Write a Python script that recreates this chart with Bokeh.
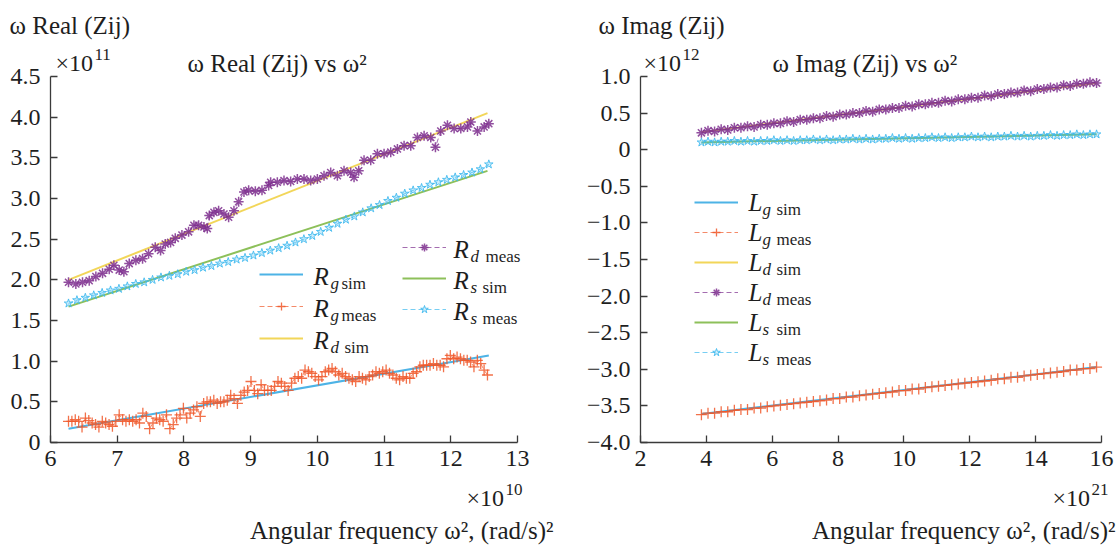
import numpy as np
from bokeh.plotting import figure
from bokeh.models import Label, Legend, LegendItem, FixedTicker, Range1d
from bokeh.layouts import row
from bokeh.embed import file_html
from bokeh.resources import INLINE

# ---------------- data (left: x in 1e10 (rad/s)^2, y in 1e11) ----------------
rg_sim_x = [6.27, 12.57]
rg_sim_y = [0.17, 1.07]
rg_meas_x_range = [6.27, 12.55]
rg_meas_y = [0.26, 0.26, 0.28, 0.26, 0.19, 0.30, 0.27, 0.24, 0.22, 0.19,
             0.26, 0.24, 0.22, 0.20, 0.26, 0.34, 0.28, 0.26, 0.28, 0.26,
             0.28, 0.24, 0.36, 0.32, 0.17, 0.24, 0.30, 0.28, 0.26, 0.34,
             0.17, 0.22, 0.30, 0.34, 0.42, 0.30, 0.36, 0.40, 0.44, 0.32,
             0.48, 0.50, 0.50, 0.52, 0.48, 0.50, 0.50, 0.52, 0.58, 0.54,
             0.48, 0.58, 0.62, 0.64, 0.75, 0.64, 0.60, 0.71, 0.64, 0.64,
             0.64,
             0.69, 0.75, 0.73, 0.69, 0.64, 0.73, 0.79, 0.81, 0.79, 0.89,
             0.87, 0.85, 0.81, 0.77, 0.81, 0.87, 0.89, 0.91, 0.87, 0.83,
             0.85, 0.81, 0.79, 0.77, 0.75, 0.81, 0.79, 0.77, 0.81, 0.83,
             0.87, 0.85, 0.87, 0.89, 0.85, 0.83, 0.79, 0.77, 0.81, 0.79,
             0.79, 0.85, 0.87, 0.93, 0.95, 0.95, 0.95, 0.97, 0.95, 0.95,
             0.93, 1.03, 1.07, 1.03, 1.05, 1.03, 1.01, 1.01, 0.99, 0.93,
             1.01, 0.97, 0.89, 0.83]
rd_sim_x = [6.27, 12.55]
rd_sim_y = [2.00, 4.05]
rd_meas_x = [6.27, 6.38, 6.48, 6.58, 6.68, 6.78, 6.88, 6.95, 7.03, 7.10,
             7.18, 7.28, 7.38, 7.47, 7.57, 7.65, 7.72, 7.80, 7.87, 7.97,
             8.07, 8.15, 8.22, 8.30, 8.35, 8.38, 8.45, 8.52, 8.60, 8.67,
             8.75, 8.82, 8.90, 8.97, 9.07, 9.17, 9.27,
             9.30, 9.40, 9.50, 9.60, 9.70, 9.80, 9.90, 10.00, 10.10, 10.20,
             10.30, 10.40, 10.50, 10.55, 10.62, 10.70, 10.80, 10.90, 11.00, 11.10,
             11.20, 11.30, 11.40, 11.50, 11.60, 11.70, 11.77, 11.85, 11.95, 12.05,
             12.15, 12.25, 12.30, 12.40, 12.50, 12.57]
rd_meas_y = [1.97, 1.95, 1.97, 1.99, 2.04, 2.08, 2.13, 2.18, 2.12, 2.10,
             2.20, 2.24, 2.26, 2.32, 2.40, 2.36, 2.44, 2.46, 2.51, 2.55,
             2.59, 2.67, 2.67, 2.65, 2.63, 2.79, 2.83, 2.85, 2.81, 2.77,
             2.85, 2.96, 3.08, 3.10, 3.09, 3.10, 3.16,
             3.20, 3.20, 3.22, 3.21, 3.24, 3.24, 3.22, 3.24, 3.28, 3.32,
             3.28, 3.34, 3.32, 3.26, 3.34, 3.47, 3.47, 3.55, 3.55, 3.57,
             3.61, 3.65, 3.65, 3.75, 3.77, 3.75, 3.63, 3.83, 3.90, 3.86,
             3.86, 3.88, 3.94, 3.83, 3.88, 3.92]
rs_sim_x = [6.27, 12.55]
rs_sim_y = [1.67, 3.34]
rs_meas_x_range = [6.27, 12.57]
rs_meas_y = [1.71, 1.75, 1.78, 1.81, 1.84, 1.87, 1.89, 1.92, 1.95, 1.97,
             2.00, 2.03, 2.05, 2.07, 2.10, 2.12, 2.15, 2.17, 2.20, 2.22,
             2.25, 2.27, 2.30, 2.33, 2.36, 2.39, 2.42, 2.46, 2.50, 2.54,
             2.59, 2.64, 2.69, 2.74, 2.78, 2.83, 2.88, 2.92, 2.97, 3.01,
             3.06, 3.10, 3.13, 3.17, 3.20, 3.23, 3.26, 3.29, 3.32, 3.36,
             3.42]

# ---------------- data (right: x in 1e21 (rad/s)^2, y in 1e12) ----------------
right_meas_x_range = [3.85, 15.85]
lg_sim_x = [3.85, 15.85]
lg_sim_y = [-3.61, -2.97]
lg_meas_y = [-3.62, -3.60, -3.60, -3.58, -3.58, -3.56, -3.55, -3.55, -3.53, -3.53,
             -3.51, -3.50, -3.49, -3.48, -3.47, -3.46, -3.45, -3.44, -3.43, -3.42,
             -3.40, -3.40, -3.38, -3.38, -3.36, -3.35, -3.34, -3.33, -3.32, -3.31,
             -3.29, -3.29, -3.27, -3.27, -3.25, -3.24, -3.23, -3.22, -3.21, -3.20,
             -3.19, -3.18, -3.17, -3.16, -3.15, -3.13, -3.13, -3.11, -3.11, -3.09,
             -3.08, -3.07, -3.06, -3.05, -3.04, -3.03, -3.01, -3.01, -2.99, -2.99,
             -2.97]
ld_sim_x = [3.85, 15.85]
ld_sim_y = [0.24, 0.91]
ld_meas_y = [0.23, 0.26, 0.25, 0.28, 0.27, 0.30, 0.30, 0.32, 0.31, 0.34,
             0.34, 0.36, 0.36, 0.39, 0.38, 0.41, 0.41, 0.43, 0.43, 0.46,
             0.45, 0.48, 0.48, 0.50, 0.50, 0.53, 0.52, 0.55, 0.55, 0.57,
             0.57, 0.60, 0.59, 0.62, 0.62, 0.64, 0.64, 0.67, 0.66, 0.69,
             0.69, 0.71, 0.71, 0.74, 0.73, 0.76, 0.76, 0.78, 0.78, 0.81,
             0.80, 0.83, 0.83, 0.85, 0.85, 0.88, 0.87, 0.90, 0.90, 0.92,
             0.91]
ls_sim_x = [3.85, 15.85]
ls_sim_y = [0.10, 0.21]
ls_meas_y = [0.10, 0.11, 0.10, 0.11, 0.11, 0.12, 0.11, 0.12, 0.11, 0.12,
             0.12, 0.13, 0.12, 0.13, 0.12, 0.13, 0.13, 0.14, 0.13, 0.14,
             0.13, 0.14, 0.14, 0.15, 0.14, 0.15, 0.14, 0.15, 0.15, 0.16,
             0.15, 0.16, 0.15, 0.16, 0.16, 0.17, 0.16, 0.17, 0.16, 0.17,
             0.17, 0.18, 0.17, 0.18, 0.17, 0.18, 0.18, 0.19, 0.18, 0.19,
             0.18, 0.19, 0.19, 0.20, 0.19, 0.20, 0.20, 0.21, 0.20, 0.21,
             0.21]

# ---------------- ticks ----------------
left_xticks = [6, 7, 8, 9, 10, 11, 12, 13]
left_xtick_labels = ["6", "7", "8", "9", "10", "11", "12", "13"]
left_yticks = [0, 0.5, 1.0, 1.5, 2.0, 2.5, 3.0, 3.5, 4.0, 4.5]
left_ytick_labels = ["0", "0.5", "1.0", "1.5", "2.0", "2.5", "3.0", "3.5", "4.0", "4.5"]
right_xticks = [2, 4, 6, 8, 10, 12, 14, 16]
right_xtick_labels = ["2", "4", "6", "8", "10", "12", "14", "16"]
right_yticks = [1.0, 0.5, 0, -0.5, -1.0, -1.5, -2.0, -2.5, -3.0, -3.5, -4.0]
right_ytick_labels = ["1.0", "0.5", "0", "\u22120.5", "\u22121.0", "\u22121.5", "\u22122.0",
                      "\u22122.5", "\u22123.0", "\u22123.5", "\u22124.0"]

FONT = "Liberation Serif"
TXT = "#1e1e1e"
C_BLUE = "#4DB3E6"
C_ORANGE = "#F0582A"
C_YELLOW = "#F0CF3C"
C_PURPLE = "#7E2F8E"
C_GREEN = "#8DC05A"
C_LBLUE = "#3DB9EE"

W, H = 560, 546
AXIS_Y_PX = 442          # canvas row of the x axis line
BASE_FIX = 0.34          # measured vertical offset of Label baselines (fraction of font size)


def make_fig(x_bounds, y_bounds, axis_left_px, axis_right_px, y_top_px,
             xticks, xlabels, yticks, ylabels):
    # frame spans the whole canvas; axes drawn at fixed data locations with bounds
    xpx = (axis_right_px - axis_left_px) / (x_bounds[1] - x_bounds[0])
    ypx = (AXIS_Y_PX - y_top_px) / (y_bounds[1] - y_bounds[0])
    xr = (x_bounds[0] - axis_left_px / xpx, x_bounds[0] + (W - axis_left_px) / xpx)
    yr = (y_bounds[0] - (H - AXIS_Y_PX) / ypx, y_bounds[0] + AXIS_Y_PX / ypx)
    p = figure(width=W, height=H, x_range=Range1d(*xr), y_range=Range1d(*yr),
               output_backend="svg", toolbar_location=None,
               min_border=0, min_border_left=0, min_border_right=0,
               min_border_top=0, min_border_bottom=0)
    p.grid.visible = False
    p.outline_line_color = None
    p.background_fill_color = "white"
    p.border_fill_color = "white"
    p.xaxis.fixed_location = y_bounds[0]
    p.yaxis.fixed_location = x_bounds[0]
    p.xaxis.bounds = x_bounds
    p.yaxis.bounds = y_bounds
    for ax, ticks, labels, standoff in ((p.xaxis[0], xticks, xlabels, 8),
                                        (p.yaxis[0], yticks, ylabels, 10)):
        ax.ticker = FixedTicker(ticks=ticks)
        ax.major_label_overrides = {t: l for t, l in zip(ticks, labels)}
        ax.axis_line_color = "#3a3a3a"
        ax.axis_line_width = 1.3
        ax.major_tick_line_color = "#3a3a3a"
        ax.major_tick_line_width = 1.3
        ax.major_tick_in = 7
        ax.major_tick_out = 0
        ax.minor_tick_in = 0
        ax.minor_tick_out = 0
        ax.major_label_text_font = FONT
        ax.major_label_text_font_size = "24px"
        ax.major_label_text_color = TXT
        ax.major_label_standoff = standoff
    return p


def add_text(p, text, cx, cy, size=24, style="normal", align="left", color=TXT):
    # cx, cy: canvas pixel position of the text anchor (baseline)
    y = H - cy + BASE_FIX * size
    p.add_layout(Label(x=cx, y=y, x_units="screen", y_units="screen",
                       text=text, text_font=FONT, text_font_size=f"{size}px",
                       text_font_style=style, text_align=align,
                       text_baseline="alphabetic", text_color=color))


def series(p, x, y, color, marker, msize, mwidth, fill_alpha=0.0):
    ln = p.line(x, y, line_color=color, line_width=1.0, line_dash="5 3", line_alpha=0.7)
    sc = p.scatter(x, y, marker=marker, size=msize, line_color=color, line_width=mwidth,
                   fill_color=color, fill_alpha=fill_alpha, line_alpha=0.85)
    return [ln, sc]


def add_legend(p, renderer_groups, gx, top_center, spacing):
    h = 20
    n = len(renderer_groups)
    height = n * h + (n - 1) * spacing
    bottom = top_center - h / 2 + height
    items = [LegendItem(label=" ", renderers=rs) for rs in renderer_groups]
    leg = Legend(items=items, location=(int(round(gx)), int(round(H - bottom))),
                 orientation="vertical", padding=0, margin=0, spacing=spacing,
                 glyph_width=44, glyph_height=h, label_width=0, label_height=h,
                 label_standoff=0, label_text_font_size="1px",
                 border_line_alpha=0, background_fill_alpha=0)
    p.add_layout(leg)


# ======================= left figure =======================
p1 = make_fig((6, 13), (0, 4.5), 50, 517, 76, left_xticks, left_xtick_labels,
              left_yticks, left_ytick_labels)

r_gs = p1.line(rg_sim_x, rg_sim_y, line_color=C_BLUE, line_width=2)
rg_x = np.linspace(rg_meas_x_range[0], rg_meas_x_range[1], len(rg_meas_y))
r_gm = series(p1, rg_x, rg_meas_y, C_ORANGE, "cross", 11, 1.3)
r_ds = p1.line(rd_sim_x, rd_sim_y, line_color=C_YELLOW, line_width=2, line_alpha=0.85)
r_dm = series(p1, rd_meas_x, rd_meas_y, C_PURPLE, "asterisk", 10, 1.5)
r_ss = p1.line(rs_sim_x, rs_sim_y, line_color=C_GREEN, line_width=2)
rs_x = np.linspace(rs_meas_x_range[0], rs_meas_x_range[1], len(rs_meas_y))
r_sm = series(p1, rs_x, rs_meas_y, C_LBLUE, "star", 9, 1.0, fill_alpha=0.25)

add_legend(p1, [[r_gs], r_gm, [r_ds]], 259, 274, 12)
add_legend(p1, [r_dm, [r_ss], r_sm], 402, 247, 11)

left_leg_text = [
    (313, 274, "g", "sim", 28), (313, 306, "g", "meas", 28), (313, 338, "d", "sim", 31),
    (453, 247, "d", "meas", 32), (453, 278, "s", "sim", 29), (453, 309, "s", "meas", 29),
]
for (lx, cy, sub, kind, off) in left_leg_text:
    add_text(p1, "R", lx, cy + 10, 25, "italic")
    add_text(p1, sub, lx + 17, cy + 15, 17, "italic")
    add_text(p1, kind, lx + off, cy + 15, 17)

add_text(p1, "\u03c9 Real (Zij)", 9, 33, 25)
add_text(p1, "\u00d710", 55, 71, 24)
add_text(p1, "11", 94, 60, 17)
add_text(p1, "\u03c9 Real (Zij) vs \u03c9\u00b2", 187, 71, 25)
add_text(p1, "\u00d710", 466, 506, 24)
add_text(p1, "10", 505, 495, 17)
add_text(p1, "Angular frequency \u03c9\u00b2, (rad/s)\u00b2", 553, 538, 25, align="right")

# ======================= right figure =======================
OX = 560
p2 = make_fig((2, 16), (-4, 1), 640 - OX, 1101 - OX, 76, right_xticks, right_xtick_labels,
              right_yticks, right_ytick_labels)

rx = np.linspace(right_meas_x_range[0], right_meas_x_range[1], len(lg_meas_y))
l_gs = p2.line(lg_sim_x, lg_sim_y, line_color=C_BLUE, line_width=2)
l_gm = series(p2, rx, lg_meas_y, C_ORANGE, "cross", 11, 1.3)
l_ds = p2.line(ld_sim_x, ld_sim_y, line_color=C_YELLOW, line_width=2, line_alpha=0.85)
l_dm = series(p2, rx, ld_meas_y, C_PURPLE, "asterisk", 10, 1.5)
l_ss = p2.line(ls_sim_x, ls_sim_y, line_color=C_GREEN, line_width=2)
l_sm = series(p2, rx, ls_meas_y, C_LBLUE, "star", 9, 1.0, fill_alpha=0.25)

add_legend(p2, [[l_gs], l_gm, [l_ds], l_dm, [l_ss], l_sm], 694 - OX, 202, 10)
right_leg_text = [("g", "sim"), ("g", "meas"), ("d", "sim"), ("d", "meas"), ("s", "sim"), ("s", "meas")]
for i, (sub, kind) in enumerate(right_leg_text):
    cy = 202 + i * 30
    lx = 748 - OX
    add_text(p2, "L", lx, cy + 8, 25, "italic")
    add_text(p2, sub, lx + 14, cy + 13, 17, "italic")
    add_text(p2, kind, lx + 28, cy + 13, 17)

add_text(p2, "\u03c9 Imag (Zij)", 598 - OX, 33, 25)
add_text(p2, "\u00d710", 643 - OX, 71, 24)
add_text(p2, "12", 682 - OX, 60, 17)
add_text(p2, "\u03c9 Imag (Zij) vs \u03c9\u00b2", 772 - OX, 71, 25)
add_text(p2, "\u00d710", 1052 - OX, 506, 24)
add_text(p2, "21", 1091 - OX, 495, 17)
add_text(p2, "Angular frequency \u03c9\u00b2, (rad/s)\u00b2", 1115 - OX, 538, 25, align="right")

layout = row(p1, p2)
open("out.html", "w").write(file_html(layout, INLINE))
